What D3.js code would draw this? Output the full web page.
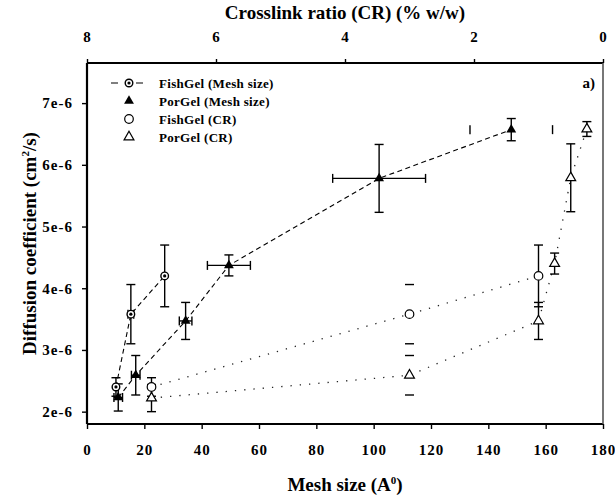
<!DOCTYPE html>
<html><head><meta charset="utf-8">
<script src="https://cdn.jsdelivr.net/npm/d3@7"></script>
<style>
body{margin:0;background:#fff}
text{font-family:"Liberation Serif","Times New Roman",serif;font-weight:bold;fill:#000}
</style>
</head><body><svg id="c" width="615" height="496"></svg>
<script>
// ---- data ----
const meshTicks = [0,20,40,60,80,100,120,140,160,180];
const crTicks = [8,6,4,2,0];
const yTicks = [2e-6,3e-6,4e-6,5e-6,6e-6,7e-6];
const yTickLabels = ["2e-6","3e-6","4e-6","5e-6","6e-6","7e-6"];

const fishMeshX    = [10.1, 15.3, 27.1];
const fishMeshY    = [2.40e-6, 3.58e-6, 4.20e-6];
const fishMeshYErr = [0.15e-6, 0.48e-6, 0.50e-6];
const fishMeshXErr = [0, 1.0, 0];

const porMeshX    = [10.9, 17.0, 34.4, 49.5, 101.9, 148.0];
const porMeshY    = [2.23e-6, 2.59e-6, 3.47e-6, 4.37e-6, 5.78e-6, 6.57e-6];
const porMeshYErr = [0.22e-6, 0.32e-6, 0.30e-6, 0.17e-6, 0.55e-6, 0.18e-6];
const porMeshXErr = [1.5, 1.5, 2.2, 7.5, 16.2, 14.4];
const porMeshXStem = [1,1,1,1,1,0];

const fishCR     = [7.0, 3.0, 1.0];
const fishCRY    = [2.40e-6, 3.58e-6, 4.20e-6];
const fishCRYErr = [0.15e-6, 0.48e-6, 0.50e-6];
const fishCRStem = [1,0,1];

const porCR     = [7.0, 3.0, 1.0, 0.75, 0.5, 0.25];
const porCRY    = [2.22e-6, 2.59e-6, 3.47e-6, 4.40e-6, 5.79e-6, 6.58e-6];
const porCRYErr = [0.22e-6, 0.32e-6, 0.30e-6, 0.17e-6, 0.55e-6, 0.12e-6];
const porCRStem = [1,0,1,1,1,1];

const legendLabels = ["FishGel (Mesh size)","PorGel (Mesh size)","FishGel (CR)","PorGel (CR)"];

// ---- layout ----
const L=87, R=603, T=63, B=424;
const svg = d3.select("#c");
const x = d3.scaleLinear().domain([0,180]).range([L,R]);
const xcr = d3.scaleLinear().domain([8,0]).range([L,R]);
const y = d3.scaleLinear().domain([1.8e-6,7.65e-6]).range([B,T]);

function styleAxis(g){
  g.select(".domain").remove();
  g.selectAll(".tick line").attr("stroke","#000").attr("stroke-width",1.4);
  g.selectAll(".tick text").style("font-family",'"Liberation Serif",serif')
   .style("font-weight","bold").style("font-size","15px").style("letter-spacing","1px").attr("fill","#000");
}
svg.append("g").attr("transform",`translate(0,${B})`)
  .call(d3.axisBottom(x).tickValues(meshTicks).tickFormat(d3.format("d")).tickSize(5).tickPadding(15))
  .call(styleAxis);
svg.append("g").attr("transform",`translate(0,${T})`)
  .call(d3.axisTop(xcr).tickValues(crTicks).tickFormat(d3.format("d")).tickSize(4).tickPadding(17))
  .call(styleAxis);
svg.append("g").attr("transform",`translate(${L},0)`)
  .call(d3.axisLeft(y).tickValues(yTicks).tickFormat((d,i)=>yTickLabels[i]).tickSize(5).tickPadding(9))
  .call(styleAxis);

// frame
svg.append("path").attr("d",`M${L},${T}H${R}`).attr("stroke","#000").attr("stroke-width",2.2);
svg.append("path").attr("d",`M${L},${B}H${R}`).attr("stroke","#000").attr("stroke-width",2.2);
svg.append("path").attr("d",`M${L},${T}V${B}`).attr("stroke","#000").attr("stroke-width",2.2);
svg.append("path").attr("d",`M${R},${T}V${B}`).attr("stroke","#555").attr("stroke-width",1.6);

// titles
svg.append("text").attr("x",345).attr("y",19).attr("text-anchor","middle").style("font-size","19px")
  .text("Crosslink ratio (CR) (% w/w)");
const xt = svg.append("text").attr("x",345).attr("y",491).attr("text-anchor","middle").style("font-size","19px");
xt.append("tspan").text("Mesh size (A");
xt.append("tspan").attr("dy",-7).style("font-size","11px").text("0");
xt.append("tspan").attr("dy",7).text(")");
const yt = svg.append("text").attr("transform",`translate(36,${(T+B)/2}) rotate(-90)`).attr("text-anchor","middle").style("font-size","19px");
yt.append("tspan").text("Diffusion coefficient (cm");
yt.append("tspan").attr("dy",-7).style("font-size","11px").text("2");
yt.append("tspan").attr("dy",7).text("/s)");
svg.append("text").attr("x",595).attr("y",88).attr("text-anchor","end").style("font-size","15px").text("a)");

// helpers
const tri = d3.symbol().type(d3.symbolTriangle).size(42);
const gPlot = svg.append("g");
function vErr(cx, cy, e, stem){
  const y1=y(cy+e), y2=y(cy-e);
  if(stem) gPlot.append("line").attr("x1",cx).attr("x2",cx).attr("y1",y1).attr("y2",y2).attr("stroke","#000").attr("stroke-width",1.4);
  [y1,y2].forEach(v=>gPlot.append("line").attr("x1",cx-4.5).attr("x2",cx+4.5).attr("y1",v).attr("y2",v).attr("stroke","#000").attr("stroke-width",1.4));
}
function hErr(sx, cxv, cy, e, stem){
  if(!e) return;
  const x1=sx(cxv-e), x2=sx(cxv+e), py=y(cy);
  if(stem) gPlot.append("line").attr("x1",x1).attr("x2",x2).attr("y1",py).attr("y2",py).attr("stroke","#000").attr("stroke-width",1.4);
  [x1,x2].forEach(v=>gPlot.append("line").attr("x1",v).attr("x2",v).attr("y1",py-4.5).attr("y2",py+4.5).attr("stroke","#000").attr("stroke-width",1.4));
}
function line(sx, xs, ys, dash, col, w){
  gPlot.append("path").datum(xs.map((d,i)=>[sx(d),y(ys[i])]))
    .attr("d",d3.line()).attr("fill","none").attr("stroke",col).attr("stroke-width",w).attr("stroke-dasharray",dash);
}

// lines
line(x, fishMeshX, fishMeshY, "5,3.5", "#000", 1.1);
line(x, porMeshX, porMeshY, "5,3.5", "#000", 1.1);
line(xcr, fishCR, fishCRY, "1.3,8", "#222", 1.3);
line(xcr, porCR, porCRY, "1.3,8", "#222", 1.3);

// error bars
fishMeshX.forEach((d,i)=>{ vErr(x(d), fishMeshY[i], fishMeshYErr[i], 1); hErr(x, d, fishMeshY[i], fishMeshXErr[i], 1); });
porMeshX.forEach((d,i)=>{ vErr(x(d), porMeshY[i], porMeshYErr[i], 1); hErr(x, d, porMeshY[i], porMeshXErr[i], porMeshXStem[i]); });
fishCR.forEach((d,i)=>vErr(xcr(d), fishCRY[i], fishCRYErr[i], fishCRStem[i]));
porCR.forEach((d,i)=>vErr(xcr(d), porCRY[i], porCRYErr[i], porCRStem[i]));

// markers
function fishMeshMarker(g, px, py){
  g.append("circle").attr("cx",px).attr("cy",py).attr("r",3.8).attr("fill","#fff").attr("stroke","#000").attr("stroke-width",1.4);
  g.append("circle").attr("cx",px).attr("cy",py).attr("r",1.6).attr("fill","#000");
}
function porMeshMarker(g, px, py){
  g.append("path").attr("d",tri).attr("transform",`translate(${px},${py})`).attr("fill","#000");
}
function fishCRMarker(g, px, py){
  g.append("circle").attr("cx",px).attr("cy",py).attr("r",4.3).attr("fill","#fff").attr("stroke","#000").attr("stroke-width",1.2);
}
function porCRMarker(g, px, py){
  g.append("path").attr("d",tri).attr("transform",`translate(${px},${py})`).attr("fill","#fff").attr("stroke","#000").attr("stroke-width",1.2);
}
fishCR.forEach((d,i)=>fishCRMarker(gPlot, xcr(d), y(fishCRY[i])));
porCR.forEach((d,i)=>porCRMarker(gPlot, xcr(d), y(porCRY[i])));
fishMeshX.forEach((d,i)=>fishMeshMarker(gPlot, x(d), y(fishMeshY[i])));
porMeshX.forEach((d,i)=>porMeshMarker(gPlot, x(d), y(porMeshY[i])));

// legend
const lg = svg.append("g");
const rows = [83, 101, 119, 137];
lg.append("line").attr("x1",111).attr("x2",143).attr("y1",rows[0]).attr("y2",rows[0]).attr("stroke","#000").attr("stroke-width",1.2).attr("stroke-dasharray","7,18");
fishMeshMarker(lg, 129, rows[0]);
porMeshMarker(lg, 129, rows[1]);
fishCRMarker(lg, 129, rows[2]);
porCRMarker(lg, 129, rows[3]);
legendLabels.forEach((t,i)=>lg.append("text").attr("x",159).attr("y",rows[i]+4.5).style("font-size","13px").style("letter-spacing","0.3px").text(t));
</script>
</body></html>
